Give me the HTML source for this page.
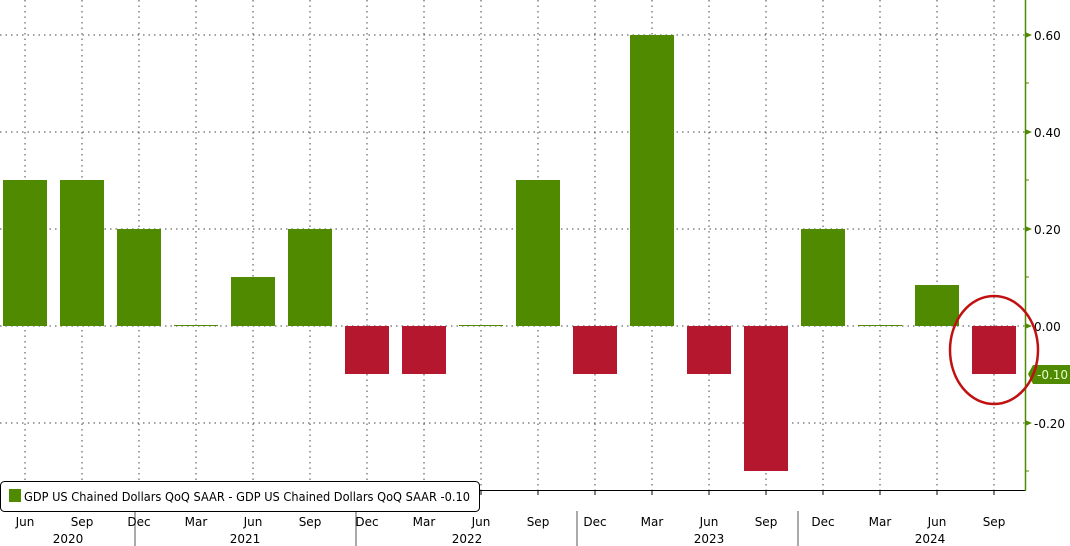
<!DOCTYPE html>
<html><head><style>body{margin:0;background:#fff}svg{display:block;font-family:"DejaVu Sans","Liberation Sans",sans-serif}</style></head><body>
<svg width="1070" height="546" xmlns="http://www.w3.org/2000/svg">
<g stroke="#444" stroke-dasharray="1.5,4" stroke-width="1">
<line x1="0" x2="1025" y1="35" y2="35"/><line x1="0" x2="1025" y1="132" y2="132"/><line x1="0" x2="1025" y1="229" y2="229"/><line x1="0" x2="1025" y1="326" y2="326"/><line x1="0" x2="1025" y1="423" y2="423"/>
<line x1="25" x2="25" y1="0" y2="490"/><line x1="82" x2="82" y1="0" y2="490"/><line x1="139" x2="139" y1="0" y2="490"/><line x1="196" x2="196" y1="0" y2="490"/><line x1="253" x2="253" y1="0" y2="490"/><line x1="310" x2="310" y1="0" y2="490"/><line x1="367" x2="367" y1="0" y2="490"/><line x1="424" x2="424" y1="0" y2="490"/><line x1="481" x2="481" y1="0" y2="490"/><line x1="538" x2="538" y1="0" y2="490"/><line x1="595" x2="595" y1="0" y2="490"/><line x1="652" x2="652" y1="0" y2="490"/><line x1="709" x2="709" y1="0" y2="490"/><line x1="766" x2="766" y1="0" y2="490"/><line x1="823" x2="823" y1="0" y2="490"/><line x1="880" x2="880" y1="0" y2="490"/><line x1="937" x2="937" y1="0" y2="490"/><line x1="994" x2="994" y1="0" y2="490"/>
</g>
<g fill="#4f8a00">
<rect x="3" y="180" width="44" height="146"/><rect x="60" y="180" width="44" height="146"/><rect x="117" y="229" width="44" height="97"/><rect x="174" y="325" width="44" height="1"/><rect x="231" y="277" width="44" height="49"/><rect x="288" y="229" width="44" height="97"/><rect x="459" y="325" width="44" height="1"/><rect x="516" y="180" width="44" height="146"/><rect x="630" y="35" width="44" height="291"/><rect x="801" y="229" width="44" height="97"/><rect x="858" y="325" width="44" height="1"/><rect x="915" y="285" width="44" height="41"/>
</g>
<g fill="#b5182e">
<rect x="345" y="326" width="44" height="48"/><rect x="402" y="326" width="44" height="48"/><rect x="573" y="326" width="44" height="48"/><rect x="687" y="326" width="44" height="48"/><rect x="744" y="326" width="44" height="145"/><rect x="972" y="326" width="44" height="48"/>
</g>
<line x1="0" x2="1026" y1="490.5" y2="490.5" stroke="#000"/>
<line x1="1025.5" x2="1025.5" y1="0" y2="491" stroke="#4f8a00" stroke-width="1.5"/>
<g stroke="#4f8a00"><line x1="1025" x2="1029" y1="83" y2="83"/><line x1="1025" x2="1029" y1="180" y2="180"/><line x1="1025" x2="1029" y1="277" y2="277"/><line x1="1025" x2="1029" y1="471" y2="471"/></g>
<g fill="#4f8a00"><path d="M1025 32l7 3-7 3z"/><path d="M1025 129l7 3-7 3z"/><path d="M1025 226l7 3-7 3z"/><path d="M1025 323l7 3-7 3z"/><path d="M1025 420l7 3-7 3z"/>
<path d="M1028 374l5-9h37v19h-37z"/></g>
<g font-size="12" fill="#000"><text x="1034" y="40">0.60</text><text x="1034" y="137">0.40</text><text x="1034" y="234">0.20</text><text x="1034" y="331">0.00</text><text x="1034" y="428">-0.20</text></g>
<text x="1037" y="379" font-size="12" fill="#e8ffd0">-0.10</text>
<ellipse cx="994" cy="350" rx="44" ry="54" fill="none" stroke="#c01010" stroke-width="2.5"/>
<g stroke="#000"><line x1="25" x2="25" y1="491" y2="495"/><line x1="82" x2="82" y1="491" y2="495"/><line x1="139" x2="139" y1="491" y2="495"/><line x1="196" x2="196" y1="491" y2="495"/><line x1="253" x2="253" y1="491" y2="495"/><line x1="310" x2="310" y1="491" y2="495"/><line x1="367" x2="367" y1="491" y2="495"/><line x1="424" x2="424" y1="491" y2="495"/><line x1="481" x2="481" y1="491" y2="495"/><line x1="538" x2="538" y1="491" y2="495"/><line x1="595" x2="595" y1="491" y2="495"/><line x1="652" x2="652" y1="491" y2="495"/><line x1="709" x2="709" y1="491" y2="495"/><line x1="766" x2="766" y1="491" y2="495"/><line x1="823" x2="823" y1="491" y2="495"/><line x1="880" x2="880" y1="491" y2="495"/><line x1="937" x2="937" y1="491" y2="495"/><line x1="994" x2="994" y1="491" y2="495"/></g>
<g stroke="#555"><line x1="135" x2="135" y1="511" y2="546"/><line x1="356" x2="356" y1="511" y2="546"/><line x1="577" x2="577" y1="511" y2="546"/><line x1="798" x2="798" y1="511" y2="546"/></g>
<g font-size="12" fill="#000" text-anchor="middle">
<text x="25" y="526">Jun</text><text x="82" y="526">Sep</text><text x="139" y="526">Dec</text><text x="196" y="526">Mar</text><text x="253" y="526">Jun</text><text x="310" y="526">Sep</text><text x="367" y="526">Dec</text><text x="424" y="526">Mar</text><text x="481" y="526">Jun</text><text x="538" y="526">Sep</text><text x="595" y="526">Dec</text><text x="652" y="526">Mar</text><text x="709" y="526">Jun</text><text x="766" y="526">Sep</text><text x="823" y="526">Dec</text><text x="880" y="526">Mar</text><text x="937" y="526">Jun</text><text x="994" y="526">Sep</text>
<text x="68" y="543">2020</text><text x="245" y="543">2021</text><text x="467" y="543">2022</text><text x="709" y="543">2023</text><text x="930" y="543">2024</text>
</g>
<rect x="0.5" y="481.5" width="479" height="30" rx="4" fill="#fff" stroke="#000"/>
<rect x="9" y="489" width="12" height="13" fill="#4f8a00"/>
<text x="24" y="501" font-size="12" fill="#000" textLength="446" lengthAdjust="spacingAndGlyphs">GDP US Chained Dollars QoQ SAAR - GDP US Chained Dollars QoQ SAAR -0.10</text>
</svg>
</body></html>
